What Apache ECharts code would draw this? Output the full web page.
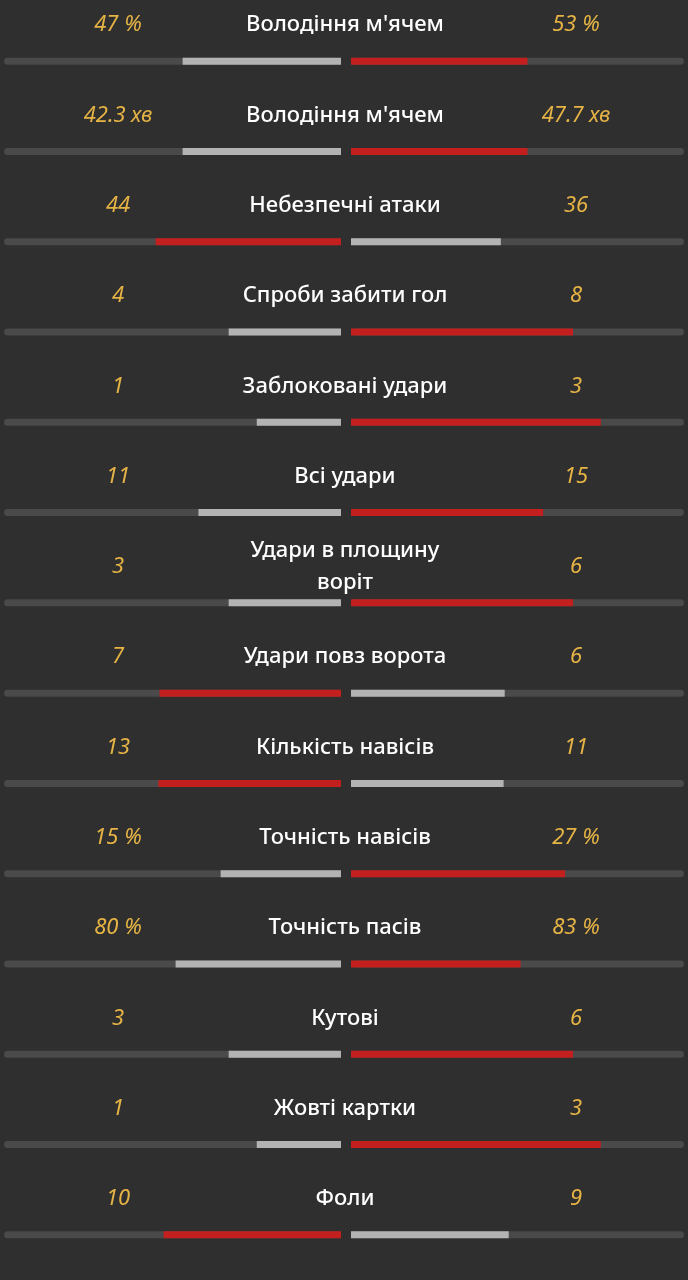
<!DOCTYPE html>
<html><head><meta charset="utf-8">
<script src="https://cdn.jsdelivr.net/npm/echarts@6/dist/echarts.min.js"></script>
<style>html,body{margin:0;background:#2f2f2f}#c{width:688px;height:1280px}</style>
</head><body><div id="c"></div>
<script>
var labels = ["Володіння м'ячем", "Володіння м'ячем", 'Небезпечні атаки', 'Спроби забити гол', 'Заблоковані удари', 'Всі удари', 'Удари в площину\nворіт', 'Удари повз ворота', 'Кількість навісів', 'Точність навісів', 'Точність пасів', 'Кутові', 'Жовті картки', 'Фоли'];
var leftText = ['47 %', '42.3 хв', '44', '4', '1', '11', '3', '7', '13', '15 %', '80 %', '3', '1', '10'];
var rightText = ['53 %', '47.7 хв', '36', '8', '3', '15', '6', '6', '11', '27 %', '83 %', '6', '3', '9'];
var leftVal = leftText.map(function (s) { return parseFloat(s); });
var rightVal = rightText.map(function (s) { return parseFloat(s); });

var RED = '#c41f1f', GREY = '#b3b3b3', TRACK = '#4a4a4a';
var chart = echarts.init(document.getElementById('c'));
var idx = labels.map(function (l, i) { return i; });
function fills(own, other) {
    return own.map(function (v, i) {
        return { value: v / (v + other[i]), itemStyle: { color: v > other[i] ? RED : GREY } };
    });
}
var track = idx.map(function () { return 1; });
function yAx(g) { return { type: 'category', gridIndex: g, data: idx, inverse: true, show: false }; }
function xAx(g, inv) { return { type: 'value', gridIndex: g, min: 0, max: 1, inverse: inv, show: false }; }
function pair(g, own, other) {
    return [
        { type: 'bar', xAxisIndex: g, yAxisIndex: g, data: track, barWidth: 7, silent: true,
          itemStyle: { color: TRACK, borderRadius: 4 } },
        { type: 'bar', xAxisIndex: g, yAxisIndex: g, data: fills(own, other), barWidth: 7, barGap: '-100%' }
    ];
}
chart.setOption({
    backgroundColor: '#2f2f2f',
    animation: false,
    grid: [
        { left: 4, width: 337, top: 16, height: 1288 },
        { left: 351, width: 333, top: 16, height: 1288 }
    ],
    xAxis: [xAx(0, true), xAx(1, false)],
    yAxis: [yAx(0), yAx(1)],
    series: pair(0, leftVal, rightVal).concat(pair(1, rightVal, leftVal))
});

var valFont = { fill: '#e6b445', font: 'italic 22px "Noto Sans", sans-serif', align: 'center', verticalAlign: 'middle' };
var g = [];
idx.forEach(function (i) {
    var y = chart.convertToPixel({ yAxisIndex: 0 }, i) - 36;
    g.push({ type: 'text', x: 118, y: y, style: Object.assign({ text: leftText[i] }, valFont) });
    g.push({ type: 'text', x: 576, y: y, style: Object.assign({ text: rightText[i] }, valFont) });
    g.push({ type: 'text', x: 345, y: y, style: { text: labels[i], fill: '#ffffff', font: '500 22px "Noto Sans", sans-serif',
        align: 'center', verticalAlign: 'middle', lineHeight: 32 } });
});
chart.setOption({ graphic: g });
</script></body></html>
